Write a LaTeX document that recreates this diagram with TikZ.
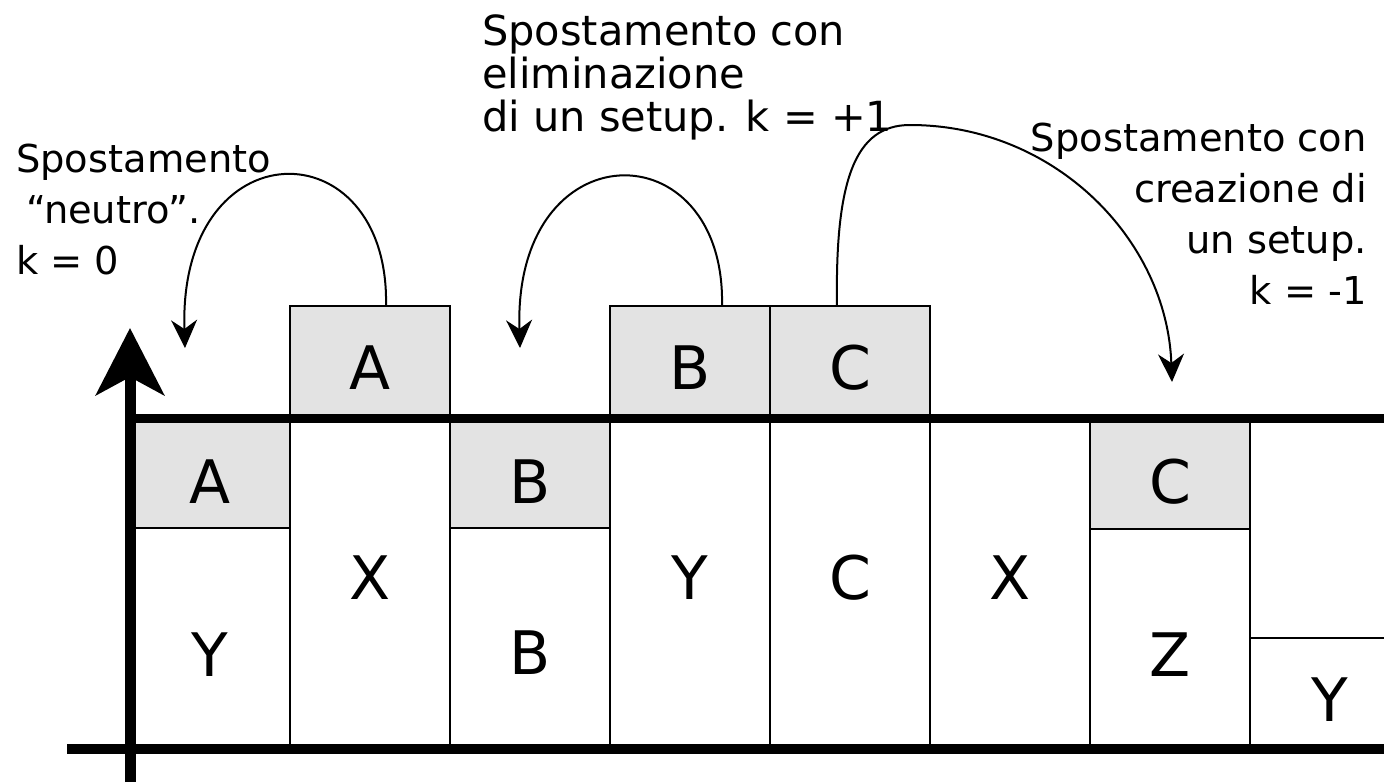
\documentclass[tikz,border=0pt]{standalone}
\usepackage{fontspec}
\setmainfont{DejaVu Sans}
\usetikzlibrary{arrows.meta}
\definecolor{boxgrey}{RGB}{227,227,227}
\begin{document}
\begin{tikzpicture}[x=1pt,y=-1pt,
  cell/.style={draw=black, line width=2pt, minimum width=160pt, inner sep=0pt, outer sep=0pt},
  greycell/.style={cell, fill=boxgrey},
  letter/.style={font=\fontsize{60}{60}\selectfont, inner sep=0pt},
  lbl/.style={font=\fontsize{38.4}{51}\selectfont, inner sep=0pt},
  moveto/.style={line width=2pt, -{Stealth[length=28pt,width=26pt,inset=9pt]}}]
\useasboundingbox (0,0) rectangle (1384,782);
\clip (0,0) rectangle (1384,782);

% cells above the line
\node[greycell, minimum height=112pt] (topA) at (370,362) {};
\node[greycell, minimum height=112pt] (topB) at (690,362) {};
\node[greycell, minimum height=112pt] (topC) at (850,362) {};

% cells below the line
\node[greycell, minimum height=110pt] (gA) at (210,473) {};
\node[cell, minimum height=221pt] (lowY1) at (210,638.5) {};
\node[cell, minimum height=331pt] (colX1) at (370,583.5) {};
\node[greycell, minimum height=110pt] (gB) at (530,473) {};
\node[cell, minimum height=221pt] (lowB) at (530,638.5) {};
\node[cell, minimum height=331pt] (colY) at (690,583.5) {};
\node[cell, minimum height=331pt] (colC) at (850,583.5) {};
\node[cell, minimum height=331pt] (colX2) at (1010,583.5) {};
\node[greycell, minimum height=111pt] (gC) at (1170,473.5) {};
\node[cell, minimum height=220pt] (lowZ) at (1170,639) {};
\node[cell, minimum height=220pt] (rUp) at (1330,528) {};
\node[cell, minimum height=111pt] (rLow) at (1330,693.5) {};

% axes and thick rules
\coordinate (topL) at (130,418.5);
\coordinate (topR) at (1390,418.5);
\coordinate (botL) at (67,749);
\coordinate (botR) at (1390,749);
\coordinate (axBot) at (130,782);
\coordinate (axTop) at (130,328);
\draw[line width=9pt] (topL) -- (topR);
\draw[line width=10pt] (botL) -- (botR);
\draw[line width=11pt, -{Stealth[length=67pt,width=68pt,inset=18pt]}] (axBot) -- (axTop);

% letters
\node[letter] (tA) at (370,368) {A};
\node[letter] (tB) at (690,368) {B};
\node[letter] (tC) at (850,368) {C};
\node[letter] (lA) at (210,482) {A};
\node[letter] (lY1) at (210,655) {Y};
\node[letter] (lX1) at (370,578) {X};
\node[letter] (lB1) at (530,482) {B};
\node[letter] (lB2) at (530,653) {B};
\node[letter] (lY2) at (690,578) {Y};
\node[letter] (lC1) at (850,578) {C};
\node[letter] (lX2) at (1010,578) {X};
\node[letter] (lC2) at (1170,482) {C};
\node[letter] (lZ) at (1170,655) {Z};
\node[letter] (lY3) at (1330,700) {Y};

% labels
\node[lbl, anchor=north west, align=left] (labN) at (16,144)
  {Spostamento\\\hspace{10pt}“neutro”.\\k = 0};
\node[lbl, anchor=north west, align=left, font=\fontsize{41.5}{43}\selectfont] (labE) at (482,14)
  {Spostamento con\\eliminazione\\di un setup. k = +1};
\node[lbl, anchor=north east, align=right] (labC) at (1367,123)
  {Spostamento con\\creazione di\\un setup.\\k = -1};

% moves
\coordinate (s1) at (386,306);
\coordinate (e1) at (185,348);
\coordinate (s2) at (722,306);
\coordinate (e2) at (520,348);
\coordinate (s3) at (837,306);
\coordinate (e3) at (1172,382);
\draw[moveto] (s1) .. controls (390,126) and (178,126) .. (e1);
\draw[moveto] (s2) .. controls (726,128) and (513,128) .. (e2);
\draw[moveto] (s3) .. controls (835,180) and (855,125) .. (910,125)
  .. controls (1055,125) and (1167,240) .. (e3);
\end{tikzpicture}
\end{document}
